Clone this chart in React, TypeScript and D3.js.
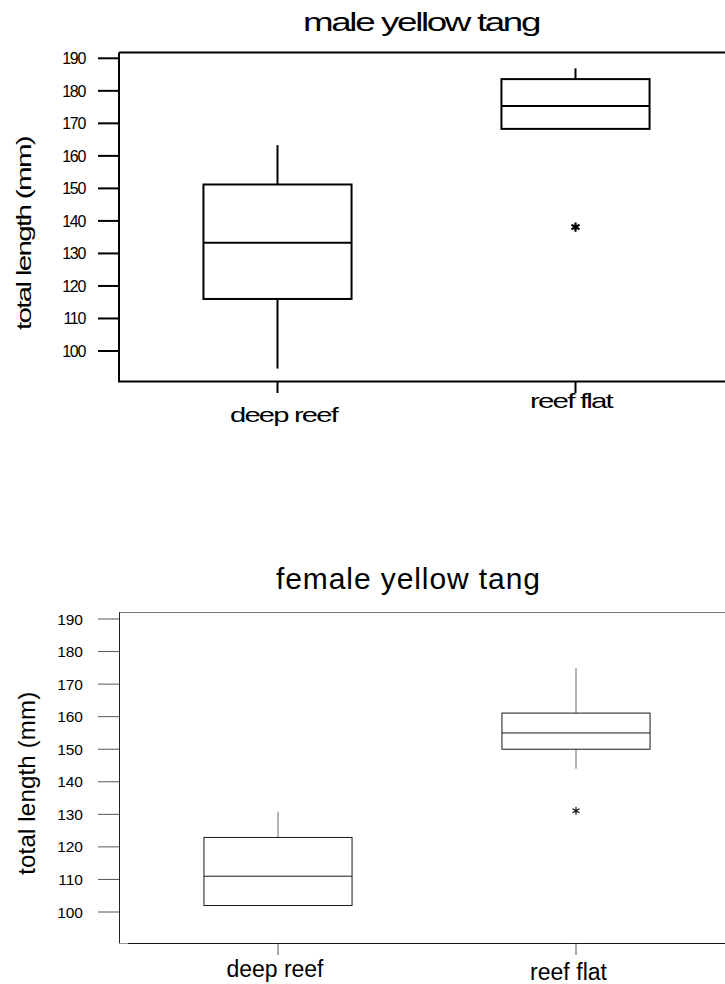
import React from "react";
import * as d3 from "d3";

// ---------- data ----------
const categories = ["deep reef", "reef flat"];
const yTicks = [100, 110, 120, 130, 140, 150, 160, 170, 180, 190];

const maleLowWhisker = [94.6, 168.3];
const maleQ1 = [116, 168.3];
const maleMedian = [133.3, 175.3];
const maleQ3 = [151.2, 183.6];
const maleHighWhisker = [163.3, 186.9];
const maleOutliers = [[], [138.1]];

const femaleLowWhisker = [102, 144];
const femaleQ1 = [102, 150];
const femaleMedian = [111, 155];
const femaleQ3 = [122.9, 161.1];
const femaleHighWhisker = [130.8, 175];
const femaleOutliers = [[], [131.1]];

const FONT = "'Liberation Sans', Arial, Helvetica, sans-serif";

type PanelCfg = {
  title: string;
  low: number[];
  q1: number[];
  med: number[];
  q3: number[];
  high: number[];
  outliers: number[][];
  yRange: [number, number];
  frameTop: number;
  frameBottom: number;
  bold: boolean;
  titleX: number;
  titleY: number;
  titleSize: number;
  titleLen: number;
  titleAdjust: string;
  yLabelX: number;
  yLabelY: number;
  yLabelSize: number;
  yLabelLen: number;
  yLabelAdjust: string;
  tickSize: number;
  tickLabelX: number;
  catSize: number;
  catDx: number[];
  catY: number[];
  catLen: number[];
  catAdjust: string;
  starR: number;
  squeeze: number;
};

const xScale = d3.scalePoint<string>().domain(categories).range([277.5, 575.5]);
const boxHalf = (xScale.step() * 0.497) / 2;
const LEFT = 119;
const RIGHT = 740;

function starPath(r: number) {
  const size = (r / 0.59436) ** 2;
  return d3.symbol().type(d3.symbolAsterisk).size(size)() as string;
}

function Panel({ c }: { c: PanelCfg }) {
  const y = d3.scaleLinear().domain([100, 190]).range(c.yRange);
  const sw = c.bold ? 2 : 1;
  const off = c.bold ? 0 : 0.5;
  const boxCol = c.bold ? "#000" : "#1a1a1a";
  const whiskCol = c.bold ? "#000" : "#6a6a6a";
  const tickCol = c.bold ? "#000" : "#555";
  return (
    <g>
      <text
        x={c.titleX}
        y={c.titleY}
        fontSize={c.titleSize}
        fontFamily={FONT}
        textLength={c.titleLen}
        lengthAdjust={c.titleAdjust as any}
        letterSpacing={c.squeeze * 1.6}
        fill="#000"
      >
        {c.title}
      </text>
      <text
        transform={`translate(${c.yLabelX},${c.yLabelY}) rotate(-90)`}
        textAnchor="middle"
        fontSize={c.yLabelSize}
        fontFamily={FONT}
        textLength={c.yLabelLen}
        lengthAdjust={c.yLabelAdjust as any}
        letterSpacing={c.squeeze * 1.2}
        fill="#000"
      >
        total length (mm)
      </text>
      {/* frame */}
      <line x1={LEFT} x2={RIGHT} y1={c.frameTop} y2={c.frameTop} stroke={c.bold ? "#000" : "#777"} strokeWidth={sw} />
      <line x1={LEFT + off} x2={LEFT + off} y1={c.frameTop} y2={c.frameBottom} stroke={c.bold ? "#000" : "#222"} strokeWidth={sw} />
      {c.bold ? (
        <line x1={LEFT - 1} x2={RIGHT} y1={c.frameBottom} y2={c.frameBottom} stroke="#000" strokeWidth={sw} />
      ) : (
        <g>
          <line x1={LEFT} x2={128} y1={c.frameBottom} y2={c.frameBottom} stroke="#999" strokeWidth={sw} />
          <line x1={128} x2={RIGHT} y1={c.frameBottom} y2={c.frameBottom} stroke="#111" strokeWidth={sw} />
        </g>
      )}
      {/* y ticks */}
      {yTicks.map((t) => (
        <g key={t}>
          <line x1={98} x2={LEFT} y1={y(t)} y2={y(t)} stroke={tickCol} strokeWidth={sw} />
          <text
            x={c.tickLabelX}
            y={y(t)}
            dy="0.36em"
            textAnchor="end"
            fontSize={c.tickSize}
            fontFamily={FONT}
            letterSpacing={c.squeeze * 1.3}
            fill="#000"
          >
            {t}
          </text>
        </g>
      ))}
      {/* x ticks and labels */}
      {categories.map((cat, i) => {
        const cx = xScale(cat)!;
        return (
          <g key={cat}>
            <line
              x1={cx + off}
              x2={cx + off}
              y1={c.frameBottom}
              y2={c.frameBottom + 11.5}
              stroke={tickCol}
              strokeWidth={sw}
            />
            <text
              x={cx + c.catDx[i]}
              y={c.catY[i]}
              textAnchor="middle"
              fontSize={c.catSize}
              fontFamily={FONT}
              textLength={c.catLen[i]}
              lengthAdjust={c.catAdjust as any}
              letterSpacing={c.squeeze * 1.3}
              fill="#000"
            >
              {cat}
            </text>
          </g>
        );
      })}
      {/* boxes */}
      {categories.map((cat, i) => {
        const cx = xScale(cat)! + off;
        return (
          <g key={"b" + cat}>
            {c.high[i] > c.q3[i] && (
              <line x1={cx} x2={cx} y1={y(c.high[i])} y2={y(c.q3[i])} stroke={whiskCol} strokeWidth={sw} />
            )}
            {c.low[i] < c.q1[i] && (
              <line x1={cx} x2={cx} y1={y(c.q1[i])} y2={y(c.low[i])} stroke={whiskCol} strokeWidth={sw} />
            )}
            <rect
              x={cx - boxHalf}
              y={y(c.q3[i])}
              width={boxHalf * 2}
              height={y(c.q1[i]) - y(c.q3[i])}
              fill="none"
              stroke={boxCol}
              strokeWidth={sw}
            />
            <line
              x1={cx - boxHalf}
              x2={cx + boxHalf}
              y1={y(c.med[i])}
              y2={y(c.med[i])}
              stroke={boxCol}
              strokeWidth={sw}
            />
            {c.outliers[i].map((v, j) => (
              <path
                key={j}
                d={starPath(c.starR)}
                transform={`translate(${cx},${y(v)})`}
                fill="none"
                stroke="#000"
                strokeWidth={c.bold ? 2.2 : 1.1}
              />
            ))}
          </g>
        );
      })}
    </g>
  );
}

const malePanel: PanelCfg = {
  title: "male yellow tang",
  low: maleLowWhisker,
  q1: maleQ1,
  med: maleMedian,
  q3: maleQ3,
  high: maleHighWhisker,
  outliers: maleOutliers,
  yRange: [351, 58.3],
  frameTop: 52.5,
  frameBottom: 381.5,
  bold: true,
  titleX: 303,
  titleY: 31,
  titleSize: 25,
  titleLen: 236,
  titleAdjust: "spacingAndGlyphs",
  yLabelX: 31,
  yLabelY: 233.5,
  yLabelSize: 21,
  yLabelLen: 193,
  yLabelAdjust: "spacingAndGlyphs",
  tickSize: 16,
  tickLabelX: 85,
  catSize: 21,
  catDx: [6, -4.5],
  catY: [422, 408],
  catLen: [107, 82],
  catAdjust: "spacingAndGlyphs",
  starR: 4.6,
  squeeze: -1,
};

const femalePanel: PanelCfg = {
  title: "female yellow tang",
  low: femaleLowWhisker,
  q1: femaleQ1,
  med: femaleMedian,
  q3: femaleQ3,
  high: femaleHighWhisker,
  outliers: femaleOutliers,
  yRange: [912, 619],
  frameTop: 612.5,
  frameBottom: 943.5,
  bold: false,
  titleX: 276,
  titleY: 588.5,
  titleSize: 30,
  titleLen: 264,
  titleAdjust: "spacing",
  yLabelX: 35,
  yLabelY: 783.3,
  yLabelSize: 24,
  yLabelLen: 183,
  yLabelAdjust: "spacing",
  tickSize: 15.5,
  tickLabelX: 83,
  catSize: 23,
  catDx: [-2.5, -7],
  catY: [977, 980],
  catLen: [97, 77],
  catAdjust: "spacing",
  starR: 4,
  squeeze: 0,
};

export default function App() {
  return (
    <svg
      width={725}
      height={984}
      viewBox="0 0 725 984"
      style={{ position: "absolute", left: 0, top: 0, background: "#fff" }}
    >
      <rect x={0} y={0} width={725} height={984} fill="#fff" />
      <Panel c={malePanel} />
      <Panel c={femalePanel} />
    </svg>
  );
}
